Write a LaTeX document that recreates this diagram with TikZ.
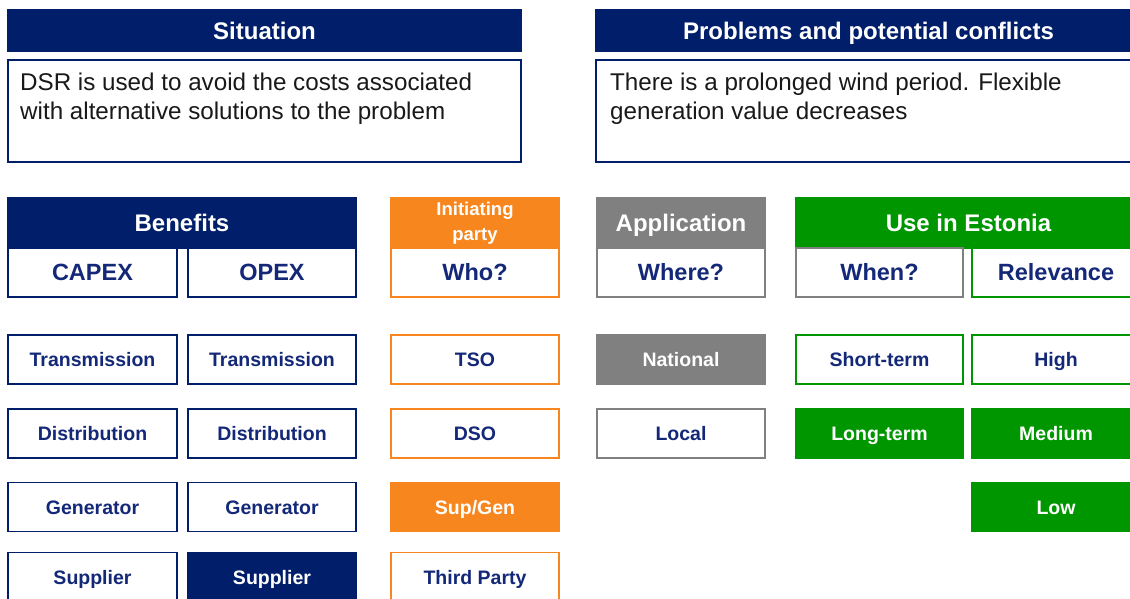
\documentclass[tikz,border=0pt]{standalone}
\usepackage{fontspec}
\setmainfont{Liberation Sans}
\definecolor{navy}{RGB}{0,30,105}
\definecolor{orng}{RGB}{247,134,30}
\definecolor{grey}{RGB}{128,128,128}
\definecolor{grn}{RGB}{0,150,0}
\definecolor{lbl}{RGB}{20,40,120}
\begin{document}
\begin{tikzpicture}[x=1pt,y=-1pt,
  cell/.style={draw, line width=1.3pt, inner sep=0pt, text height=14pt, text depth=0pt, font=\fontsize{19.5}{22}\selectfont\bfseries},
  hdr/.style={cell, text=white, text height=17.2pt, font=\fontsize{24}{26}\selectfont\bfseries},
  sub/.style={cell, fill=white, text=lbl, text height=16.8pt, font=\fontsize{23.5}{26}\selectfont\bfseries},
  std/.style={minimum width=168pt},
  hh/.style={minimum height=49pt},
  body/.style={draw=navy, line width=1.3pt, fill=white, minimum height=102pt, inner sep=0pt},
  btext/.style={anchor=north west, inner sep=0pt, align=left, font=\fontsize{24.2}{29}\selectfont, text=black!90},
  nv/.style={cell, std, hh, draw=navy, fill=white, text=lbl},
  nvf/.style={cell, std, hh, draw=navy, fill=navy, text=white},
  og/.style={cell, std, hh, draw=orng, fill=white, text=lbl},
  ogf/.style={cell, std, hh, draw=orng, fill=orng, text=white},
  gy/.style={cell, std, hh, draw=grey, fill=white, text=lbl},
  gyf/.style={cell, std, hh, draw=grey, fill=grey, text=white},
  gn/.style={cell, std, hh, draw=grn, fill=white, text=lbl},
  gnf/.style={cell, std, hh, draw=grn, fill=grn, text=white}
]
\useasboundingbox (0,0) rectangle (1130,599);
\clip (0,0) rectangle (1130,599);
% top section
\node[hdr, fill=navy, draw=navy, minimum width=513pt, minimum height=41pt] (sith) at (264.5,30.5) {Situation};
\node[body, minimum width=513pt] (sitb) at (264.5,111) {};
\node[btext] (sitt) at (20,73) {DSR is used to avoid the costs associated\\with alternative solutions to the problem};
\node[hdr, fill=navy, draw=navy, minimum width=545pt, minimum height=41pt] (prbh) at (868.5,30.5) {Problems and potential conflicts};
\node[body, minimum width=545pt] (prbb) at (868.5,111) {};
\node[btext] (prbt) at (610,73) {There is a prolonged wind period. Flexible\\generation value decreases};
% headers
\node[hdr, fill=navy, draw=navy, minimum width=348pt, minimum height=50pt] (ben) at (182,223) {Benefits};
\node[sub, std, hh, draw=navy, minimum width=169pt] (capex) at (92.5,272.5) {CAPEX};
\node[sub, std, hh, draw=navy] (opex) at (272,272.5) {OPEX};
\node[draw=orng, fill=orng, line width=1.3pt, text=white, inner sep=0pt, align=center, std, minimum height=50pt, font=\fontsize{18.5}{25}\selectfont\bfseries] (init) at (475,223) {Initiating\\party};
\node[sub, std, hh, draw=orng] (who) at (475,272.5) {Who?};
\node[hdr, fill=grey, draw=grey, std, minimum height=50pt] (app) at (681,223) {Application};
\node[sub, std, hh, draw=grey] (where) at (681,272.5) {Where?};
\node[hdr, fill=grn, draw=grn, minimum width=345pt, minimum height=50pt] (est) at (968.5,223) {Use in Estonia};
\node[sub, std, hh, draw=grey, minimum width=167pt] (when) at (879.5,272.5) {When?};
\node[sub, std, hh, draw=grn] (rel) at (1056,272.5) {Relevance};
% rows
\node[nv, minimum width=169pt] (c1) at (92.5,359.5) {Transmission};
\node[nv] (o1) at (272,359.5) {Transmission};
\node[og] (w1) at (475,359.5) {TSO};
\node[gyf] (a1) at (681,359.5) {National};
\node[gn, minimum width=167pt] (t1) at (879.5,359.5) {Short-term};
\node[gn] (r1) at (1056,359.5) {High};

\node[nv, minimum width=169pt] (c2) at (92.5,433.5) {Distribution};
\node[nv] (o2) at (272,433.5) {Distribution};
\node[og] (w2) at (475,433.5) {DSO};
\node[gy] (a2) at (681,433.5) {Local};
\node[gnf, minimum width=167pt] (t2) at (879.5,433.5) {Long-term};
\node[gnf] (r2) at (1056,433.5) {Medium};

\node[nv, minimum width=169pt] (c3) at (92.5,507) {Generator};
\node[nv] (o3) at (272,507) {Generator};
\node[ogf] (w3) at (475,507) {Sup/Gen};
\node[gnf] (r3) at (1056,507) {Low};

\node[nv, minimum width=169pt] (c4) at (92.5,577) {Supplier};
\node[nvf] (o4) at (272,577) {Supplier};
\node[og] (w4) at (475,577) {Third Party};
\end{tikzpicture}
\end{document}
